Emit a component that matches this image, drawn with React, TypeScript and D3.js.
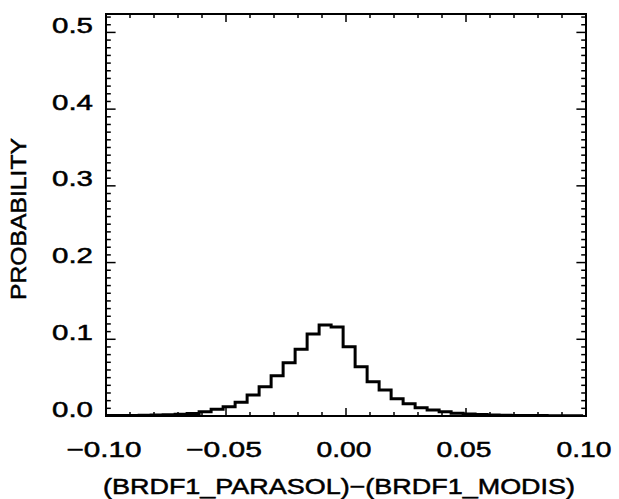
import React from "react";
import * as d3 from "d3";

// Histogram bin centers (bin width 0.005)
const binCenters: number[] = [
  -0.0987, -0.0937, -0.0887, -0.0837, -0.0787, -0.0737, -0.0687, -0.0637,
  -0.0587, -0.0537, -0.0487, -0.0437, -0.0387, -0.0337, -0.0287, -0.0237,
  -0.0187, -0.0137, -0.0087, -0.0037, 0.0013, 0.0063, 0.0113, 0.0163,
  0.0213, 0.0263, 0.0313, 0.0363, 0.0413, 0.0463, 0.0513, 0.0563,
  0.0613, 0.0663, 0.0713, 0.0763, 0.0813, 0.0863, 0.0913, 0.0963,
];
const probabilities: number[] = [
  0.0005, 0.0006, 0.0008, 0.001, 0.0013, 0.0017, 0.0024, 0.0033,
  0.0057, 0.0087, 0.0121, 0.0179, 0.0273, 0.038, 0.0524, 0.0695,
  0.0869, 0.1068, 0.1187, 0.1161, 0.0904, 0.0643, 0.0447, 0.0339,
  0.0226, 0.0159, 0.0108, 0.0078, 0.0057, 0.0035, 0.0026, 0.002,
  0.0014, 0.0011, 0.0008, 0.0006, 0.0005, 0.0004, 0.0003, 0.0002,
];
const binWidth = 0.005;

const xMajorTicks: number[] = [-0.1, -0.05, 0.0, 0.05, 0.1];
const xTickLabels: string[] = ["\u22120.10", "\u22120.05", "0.00", "0.05", "0.10"];
const yMajorTicks: number[] = [0.0, 0.1, 0.2, 0.3, 0.4, 0.5];
const yTickLabels: string[] = ["0.0", "0.1", "0.2", "0.3", "0.4", "0.5"];
const xTitle = "(BRDF1_PARASOL)\u2212(BRDF1_MODIS)";
const yTitle = "PROBABILITY";

const W = 619;
const H = 499;
const L = 106, R = 586, T = 14, B = 416;

export default function App() {
  const x = d3.scaleLinear().domain([-0.1, 0.1]).range([L, R]);
  const y = d3.scaleLinear().domain([0, 0.524]).range([B, T]);

  const pts: [number, number][] = [];
  binCenters.forEach((c, i) => {
    const v = probabilities[i];
    pts.push([x(c - binWidth / 2), y(v)]);
    pts.push([x(c + binWidth / 2), y(v)]);
  });
  const line = d3.line();
  const histPath = line(pts) || "";

  const xMinor = d3.range(-10, 11).map((k) => k * 0.01);
  const yMinor = d3.range(0, 53).map((k) => k * 0.01);

  const font = "'Liberation Sans', Arial, Helvetica, sans-serif";
  const xLabelWidths = [75, 76, 55, 55, 55];

  return (
    <svg
      width={W}
      height={H}
      style={{ position: "absolute", left: 0, top: 0, background: "#fff" }}
    >
      <rect x={0} y={0} width={W} height={H} fill="#fff" />
      <defs>
        <clipPath id="plotclip">
          <rect x={L} y={T} width={R - L} height={B - T} />
        </clipPath>
      </defs>
      {/* histogram */}
      <path
        d={histPath}
        fill="none"
        stroke="#000"
        strokeWidth={3}
        strokeLinejoin="miter"
        clipPath="url(#plotclip)"
      />
      {/* frame */}
      <rect x={L} y={T} width={R - L} height={B - T} fill="none" stroke="#000" strokeWidth={2} />
      {/* x ticks */}
      {xMinor.map((v, i) => {
        const isMajor = xMajorTicks.some((m) => Math.abs(m - v) < 1e-9);
        const len = isMajor ? 8 : 4;
        return (
          <g key={"xm" + i}>
            <line x1={x(v)} x2={x(v)} y1={B} y2={B - len} stroke="#000" strokeWidth={1.5} />
            <line x1={x(v)} x2={x(v)} y1={T} y2={T + len} stroke="#000" strokeWidth={1.5} />
          </g>
        );
      })}
      {/* y ticks */}
      {yMinor.map((v, i) => {
        const isMajor = yMajorTicks.some((m) => Math.abs(m - v) < 1e-9);
        const len = isMajor ? 9.6 : 4.8;
        return (
          <g key={"ym" + i}>
            <line x1={L} x2={L + len} y1={y(v)} y2={y(v)} stroke="#000" strokeWidth={1.5} />
            <line x1={R} x2={R - len} y1={y(v)} y2={y(v)} stroke="#000" strokeWidth={1.5} />
          </g>
        );
      })}
      {/* x tick labels */}
      {xMajorTicks.map((v, i) => (
        <text
          key={"xl" + i}
          x={x(v) - 2}
          y={457}
          textAnchor="middle"
          fontFamily={font}
          fontSize={22}
          stroke="#000"
          strokeWidth={0.5}
          textLength={xLabelWidths[i]}
          lengthAdjust="spacingAndGlyphs"
        >
          {xTickLabels[i]}
        </text>
      ))}
      {/* y tick labels */}
      {yMajorTicks.map((v, i) => (
        <text
          key={"yl" + i}
          x={93}
          y={y(v) + 0.5}
          textAnchor="end"
          fontFamily={font}
          fontSize={22}
          stroke="#000"
          strokeWidth={0.5}
          textLength={41}
          lengthAdjust="spacingAndGlyphs"
        >
          {yTickLabels[i]}
        </text>
      ))}
      {/* x title */}
      <text
        x={339}
        y={494}
        textAnchor="middle"
        fontFamily={font}
        fontSize={22}
        stroke="#000"
        strokeWidth={0.5}
        textLength={472}
        lengthAdjust="spacingAndGlyphs"
      >
        {xTitle}
      </text>
      {/* y title */}
      <text
        transform={`translate(26, 219) rotate(-90)`}
        textAnchor="middle"
        fontFamily={font}
        fontSize={22}
        stroke="#000"
        strokeWidth={0.5}
        textLength={162}
        lengthAdjust="spacingAndGlyphs"
      >
        {yTitle}
      </text>
    </svg>
  );
}
